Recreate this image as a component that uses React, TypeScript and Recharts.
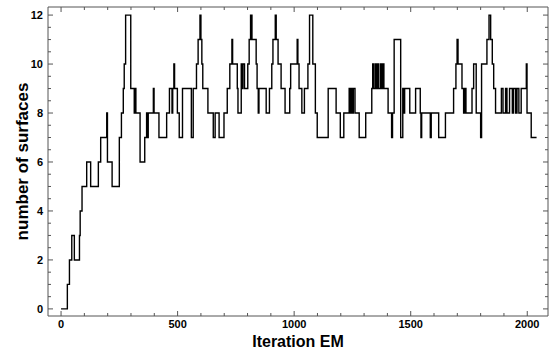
import { LineChart, Line, XAxis, YAxis } from 'recharts';

// EM iteration where the number of surfaces changes, and the new count
const iterations = [
  0, 27, 36, 46, 57, 79, 82, 90, 110, 127, 160, 170, 196, 199, 219, 250, 259, 267, 271, 277,
  299, 314, 317, 321, 339, 359, 367, 371, 374, 396, 399, 420, 453, 465, 476, 479, 484, 487, 499, 507,
  521, 559, 567, 581, 588, 596, 600, 604, 608, 630, 653, 661, 678, 699, 713, 724, 733, 736, 756, 759,
  773, 777, 780, 787, 801, 807, 813, 819, 837, 841, 846, 849, 880, 894, 904, 909, 919, 923, 931, 944,
  961, 981, 985, 1013, 1016, 1021, 1033, 1044, 1059, 1066, 1080, 1091, 1099, 1146, 1180, 1198, 1213, 1236, 1240, 1244,
  1250, 1254, 1261, 1279, 1307, 1333, 1337, 1341, 1348, 1352, 1358, 1362, 1370, 1374, 1380, 1385, 1403, 1418, 1422, 1429,
  1457, 1466, 1470, 1474, 1496, 1521, 1541, 1544, 1547, 1584, 1588, 1620, 1649, 1684, 1694, 1699, 1703, 1720, 1727, 1733,
  1737, 1763, 1770, 1781, 1800, 1804, 1827, 1836, 1843, 1850, 1856, 1864, 1889, 1896, 1907, 1913, 1924, 1936, 1941, 1950,
  1956, 1964, 1974, 1996, 1999, 2017, 2040,
];
const surfaces = [
  0, 1, 2, 3, 2, 3, 4, 5, 6, 5, 6, 7, 8, 6, 5, 7, 8, 9, 10, 12,
  9, 8, 9, 8, 6, 7, 8, 7, 8, 9, 8, 7, 8, 9, 8, 9, 10, 9, 8, 7,
  9, 7, 9, 10, 11, 12, 11, 10, 9, 8, 7, 8, 7, 8, 9, 10, 11, 10, 9, 8,
  10, 9, 10, 9, 10, 11, 12, 11, 10, 9, 8, 9, 8, 9, 10, 11, 12, 11, 10, 9,
  8, 9, 10, 11, 10, 9, 8, 9, 10, 12, 10, 8, 7, 9, 8, 7, 8, 9, 8, 9,
  8, 9, 8, 7, 8, 9, 10, 9, 10, 9, 10, 9, 10, 9, 10, 9, 8, 7, 8, 11,
  7, 9, 8, 9, 8, 9, 8, 7, 8, 7, 8, 7, 8, 9, 10, 11, 10, 9, 8, 9,
  8, 9, 10, 8, 7, 10, 11, 12, 11, 10, 9, 8, 9, 8, 9, 8, 9, 8, 9, 8,
  9, 8, 9, 10, 8, 7, 7,
];

const xTicks = [0, 100, 200, 300, 400, 500, 600, 700, 800, 900, 1000, 1100, 1200, 1300, 1400, 1500, 1600, 1700, 1800, 1900, 2000];
const yTicks = [0, 0.5, 1, 1.5, 2, 2.5, 3, 3.5, 4, 4.5, 5, 5.5, 6, 6.5, 7, 7.5, 8, 8.5, 9, 9.5, 10, 10.5, 11, 11.5, 12];

const data = iterations.map((it, i) => ({ iter: it, n: surfaces[i] }));

const FONT = '"Liberation Sans", Arial, sans-serif';
const AXIS = '#555';

const isMajorX = (v: number) => v % 500 === 0;
const isMajorY = (v: number) => v % 2 === 0;

function BottomTick(props: any) {
  const { x, y, payload } = props;
  const major = isMajorX(payload.value);
  const ay = y - 4;
  return (
    <g>
      <line x1={x} x2={x} y1={ay} y2={ay - (major ? 5 : 3)} stroke={AXIS} />
      {major && (
        <text x={x} y={y} dy="0.71em" textAnchor="middle" fontSize={11} fontWeight="bold" fontFamily={FONT} fill="#000">
          {payload.value}
        </text>
      )}
    </g>
  );
}

function TopTick(props: any) {
  const { x, y, payload } = props;
  const major = isMajorX(payload.value);
  return <line x1={x} x2={x} y1={y} y2={y + (major ? 5 : 3)} stroke={AXIS} />;
}

function LeftTick(props: any) {
  const { x, y, payload } = props;
  const major = isMajorY(payload.value);
  const ax = x + 5;
  return (
    <g>
      <line x1={ax} x2={ax + (major ? 5 : 3)} y1={y} y2={y} stroke={AXIS} />
      {major && (
        <text x={x} y={y} dy="0.355em" textAnchor="end" fontSize={11} fontWeight="bold" fontFamily={FONT} fill="#000">
          {payload.value}
        </text>
      )}
    </g>
  );
}

function RightTick(props: any) {
  const { x, y, payload } = props;
  const major = isMajorY(payload.value);
  return <line x1={x} x2={x - (major ? 5 : 3)} y1={y} y2={y} stroke={AXIS} />;
}

export default function App() {
  return (
    <div style={{ position: 'absolute', left: 0, top: 0, width: 556, height: 355, background: '#fff' }}>
      <LineChart width={556} height={355} data={data} margin={{ top: 0, right: 0, bottom: 0, left: 0 }}>
        <XAxis
          xAxisId="b"
          dataKey="iter"
          type="number"
          domain={[-56, 2089]}
          allowDataOverflow
          ticks={xTicks}
          interval={0}
          height={39}
          tickSize={0}
          tickMargin={4}
          tickLine={false}
          stroke={AXIS}
          tick={BottomTick}
          label={{
            content: ({ viewBox }: any) => (
              <text
                x={viewBox.x + viewBox.width / 2}
                y={viewBox.y + 31}
                textAnchor="middle"
                fontSize={16}
                fontWeight="bold"
                fontFamily={FONT}
                fill="#000"
              >
                Iteration EM
              </text>
            ),
          }}
        />
        <XAxis
          xAxisId="t"
          orientation="top"
          dataKey="iter"
          type="number"
          domain={[-56, 2089]}
          allowDataOverflow
          ticks={xTicks}
          interval={0}
          height={7}
          tickSize={0}
          tickMargin={0}
          tickLine={false}
          stroke={AXIS}
          tick={TopTick}
        />
        <YAxis
          yAxisId="l"
          type="number"
          domain={[-0.29, 12.33]}
          allowDataOverflow
          ticks={yTicks}
          interval={0}
          width={48}
          tickSize={0}
          tickMargin={5}
          tickLine={false}
          stroke={AXIS}
          tick={LeftTick}
          label={{
            content: ({ viewBox }: any) => {
              const cx = 28;
              const cy = viewBox.y + viewBox.height / 2;
              return (
                <text
                  x={cx}
                  y={cy}
                  transform={`rotate(-90 ${cx} ${cy})`}
                  textAnchor="middle"
                  fontSize={17}
                  fontWeight="bold"
                  fontFamily={FONT}
                  fill="#000"
                >
                  number of surfaces
                </text>
              );
            },
          }}
        />
        <YAxis
          yAxisId="r"
          orientation="right"
          type="number"
          domain={[-0.29, 12.33]}
          allowDataOverflow
          ticks={yTicks}
          interval={0}
          width={8}
          tickSize={0}
          tickMargin={0}
          tickLine={false}
          stroke={AXIS}
          tick={RightTick}
        />
        <Line
          xAxisId="t"
          yAxisId="r"
          type="stepAfter"
          dataKey="n"
          stroke="none"
          dot={false}
          isAnimationActive={false}
        />
        <Line
          xAxisId="b"
          yAxisId="l"
          type="stepAfter"
          dataKey="n"
          stroke="#000"
          strokeWidth={1.4}
          dot={false}
          isAnimationActive={false}
        />
      </LineChart>
    </div>
  );
}
